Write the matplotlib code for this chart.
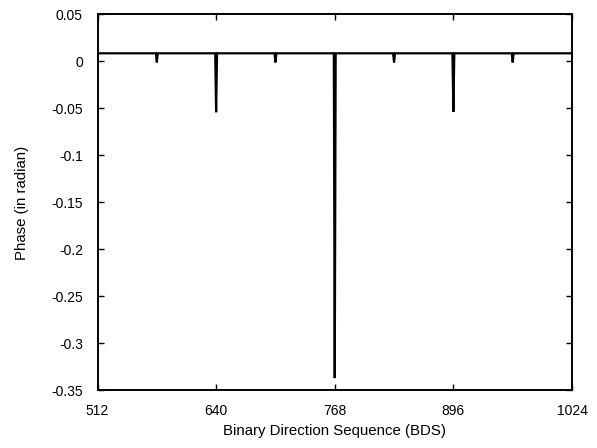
import matplotlib
matplotlib.use("Agg")
import matplotlib.pyplot as plt

plt.rcParams['font.family'] = ['Liberation Sans', 'DejaVu Sans']

# Phase of each binary direction sequence: a flat level with dips at BDS 576, 640, ...
bds = [512, 575, 576, 577, 639, 640, 641, 703, 704, 705, 767, 768, 769,
       831, 832, 833, 895, 896, 897, 959, 960, 961, 1024]
phase = [0.0087, 0.0087, -0.001, 0.0087, 0.0087, -0.054, 0.0087,
         0.0087, -0.001, 0.0087, 0.0087, -0.337, 0.0087,
         0.0087, -0.001, 0.0087, 0.0087, -0.0535, 0.0087,
         0.0087, -0.001, 0.0087, 0.0087]

x_ticks = [512, 640, 768, 896, 1024]
y_ticks = [0.05, 0, -0.05, -0.1, -0.15, -0.2, -0.25, -0.3, -0.35]
y_labels = ['0.05', '0', '-0.05', '-0.1', '-0.15', '-0.2', '-0.25', '-0.3', '-0.35']

fig = plt.figure(figsize=(5.97, 4.48), dpi=100)
ax = fig.add_axes([97.5 / 597, 1 - 390.3 / 448, (572 - 97.5) / 597, (390.3 - 14.5) / 448])

ax.plot(bds, phase, color='black', linewidth=1.6, solid_joinstyle='miter')

ax.set_xlim(512, 1024)
ax.set_ylim(-0.35, 0.05)
ax.set_xticks(x_ticks)
ax.set_xticklabels([str(v) for v in x_ticks])
ax.set_yticks(y_ticks)
ax.set_yticklabels(y_labels)

ax.tick_params(direction='in', length=4, width=1, top=True, right=True,
               labelsize=10, colors='black')
ax.tick_params(axis='y', pad=10.5)
ax.tick_params(axis='x', pad=10)
for s in ax.spines.values():
    s.set_linewidth(1.4)

ax.set_xlabel('Binary Direction Sequence (BDS)', fontsize=10.8)
ax.set_ylabel('Phase (in radian)', fontsize=10.8)
ax.xaxis.set_label_coords(0.5, 1 - (431 - 14.5) / (390.3 - 14.5) , transform=ax.transAxes)
ax.xaxis.label.set_va('center')
ax.yaxis.set_label_coords(-(97.5 - 21.7) / (572 - 97.5), 0.5, transform=ax.transAxes)
ax.yaxis.label.set_va('center')

fig.savefig('out.png', dpi=100)
